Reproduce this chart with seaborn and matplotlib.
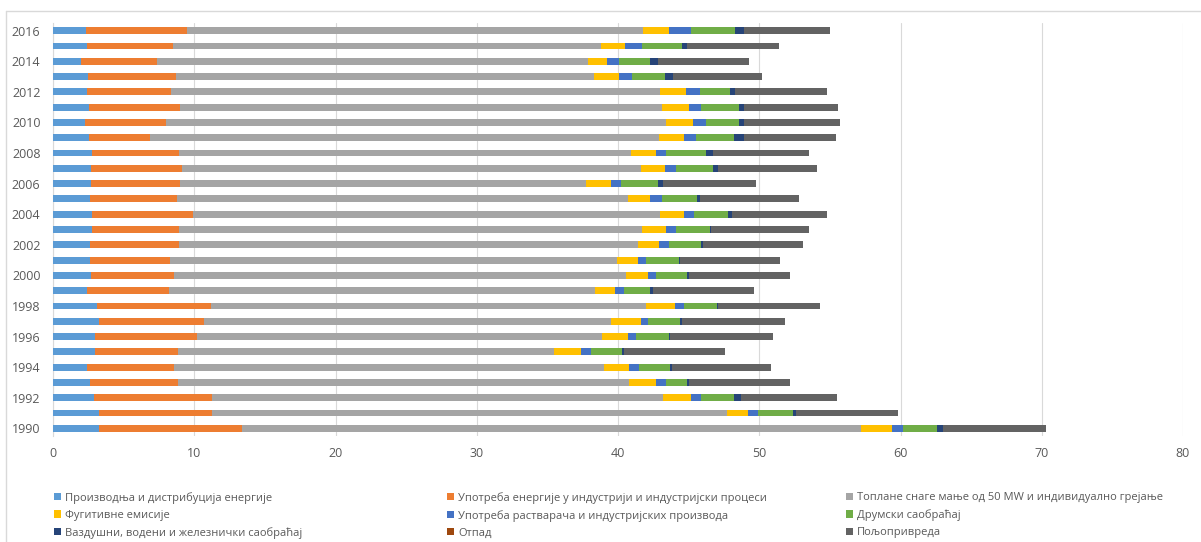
import numpy as np
import pandas as pd
import matplotlib
matplotlib.use("Agg")
import matplotlib.pyplot as plt
from matplotlib.patches import Patch
from matplotlib.lines import Line2D
import seaborn as sns

years = list(range(1990, 2017))

categories = [
    "Производња и дистрибуција енергије",
    "Употреба енергије у индустрији и индустријски процеси",
    "Топлане снаге мање од 50 MW и индивидуално грејање",
    "Фугитивне емисије",
    "Употреба растварача и индустријских производа",
    "Друмски саобраћај",
    "Ваздушни, водени и железнички саобраћај",
    "Отпад",
    "Пољопривреда",
]

# values per year, 1990 .. 2016
energy = [3.28, 3.23, 2.93, 2.62, 2.38, 2.95, 2.97, 3.28, 3.09, 2.43,
          2.67, 2.62, 2.62, 2.76, 2.76, 2.62, 2.71, 2.71, 2.76, 2.57,
          2.29, 2.57, 2.38, 2.50, 1.96, 2.43, 2.34]
industry = [10.08, 8.05, 8.35, 6.25, 6.19, 5.88, 7.20, 7.41, 8.07, 5.81,
            5.90, 5.66, 6.32, 6.18, 7.17, 6.18, 6.28, 6.40, 6.14, 4.30,
            5.69, 6.42, 5.95, 6.18, 5.43, 6.09, 7.17]
heating = [43.84, 36.42, 31.92, 31.93, 30.43, 26.67, 28.73, 28.81, 30.84, 30.16,
           32.03, 31.62, 32.46, 32.76, 33.07, 31.90, 28.71, 32.49, 32.00, 36.03,
           35.42, 34.11, 34.67, 29.62, 30.51, 30.28, 32.29]
fugitive = [2.2, 1.5, 2.0, 1.9, 1.8, 1.9, 1.8, 2.1, 2.0, 1.4,
            1.5, 1.5, 1.5, 1.7, 1.7, 1.6, 1.8, 1.7, 1.8, 1.8,
            1.9, 1.9, 1.8, 1.8, 1.3, 1.7, 1.8]
solvents = [0.8, 0.7, 0.7, 0.7, 0.7, 0.7, 0.6, 0.5, 0.7, 0.6,
            0.6, 0.6, 0.7, 0.7, 0.7, 0.8, 0.7, 0.8, 0.7, 0.8,
            0.9, 0.9, 1.0, 0.9, 0.9, 1.2, 1.6]
road = [2.4, 2.5, 2.3, 1.5, 2.2, 2.2, 2.3, 2.3, 2.3, 1.9,
        2.2, 2.3, 2.3, 2.4, 2.4, 2.5, 2.6, 2.6, 2.8, 2.7,
        2.4, 2.7, 2.1, 2.3, 2.2, 2.8, 3.1]
other_transport = [0.4, 0.2, 0.5, 0.1, 0.1, 0.1, 0.1, 0.1, 0.1, 0.2,
                   0.1, 0.1, 0.1, 0.1, 0.3, 0.2, 0.4, 0.4, 0.5, 0.7,
                   0.3, 0.3, 0.4, 0.6, 0.5, 0.4, 0.6]
waste = [0.0, 0.0, 0.0, 0.0, 0.0, 0.0, 0.0, 0.0, 0.0, 0.0,
         0.0, 0.0, 0.0, 0.0, 0.0, 0.0, 0.0, 0.0, 0.0, 0.0,
         0.0, 0.0, 0.0, 0.0, 0.0, 0.0, 0.0]
agriculture = [7.3, 7.2, 6.8, 7.2, 7.0, 7.2, 7.3, 7.3, 7.2, 7.1,
               7.2, 7.1, 7.1, 6.9, 6.7, 7.0, 6.6, 7.0, 6.8, 6.5,
               6.8, 6.7, 6.5, 6.3, 6.5, 6.5, 6.1]

colors = ["#5B9BD5", "#ED7D31", "#A5A5A5", "#FFC000", "#4472C4",
          "#70AD47", "#264478", "#9E480E", "#636363"]

df = pd.DataFrame({
    categories[0]: energy,
    categories[1]: industry,
    categories[2]: heating,
    categories[3]: fugitive,
    categories[4]: solvents,
    categories[5]: road,
    categories[6]: other_transport,
    categories[7]: waste,
    categories[8]: agriculture,
}, index=[str(y) for y in years])

cum = df.cumsum(axis=1)
cum["year"] = cum.index
order = [str(y) for y in reversed(years)]

sns.set_style("white")
plt.rcParams["font.family"] = ["Open Sans", "DejaVu Sans"]

fig = plt.figure(figsize=(12.01, 5.42), dpi=100)
ax = fig.add_axes([53 / 1201, 1 - 436 / 542, 1130 / 1201, 413 / 542])

# stacked bars: draw the cumulative totals from the longest to the shortest
for i in range(len(categories) - 1, -1, -1):
    sns.barplot(
        data=cum,
        x=categories[i],
        y="year",
        order=order,
        orient="h",
        color=colors[i],
        saturation=1,
        width=0.45,
        errorbar=None,
        linewidth=0,
        edgecolor="none",
        ax=ax,
        zorder=3,
    )

ax.set_xlim(0, 80)
ax.set_xticks(np.arange(0, 81, 10))
ax.grid(axis="x", color="#D9D9D9", linewidth=0.8, zorder=0)
ax.set_axisbelow(True)
ax.set_ylim(len(order) - 0.5, -0.5)
ax.set_yticks(range(len(order)))
ax.set_yticklabels([y if int(y) % 2 == 0 else "" for y in order])
ax.set_xlabel("")
ax.set_ylabel("")
ax.tick_params(axis="both", length=0, labelsize=9, colors="#595959")
ax.tick_params(axis="x", pad=8)
ax.tick_params(axis="y", pad=9)
for side in ["top", "right", "bottom"]:
    ax.spines[side].set_visible(False)
ax.spines["left"].set_color("#D9D9D9")
ax.spines["left"].set_linewidth(0.8)

# legend in three columns, filled row by row
handles = [Patch(facecolor=c, edgecolor="none") for c in colors]
col_x = [54 / 1201, 447 / 1201, 846 / 1201]
for c in range(3):
    idx = [c, c + 3, c + 6]
    leg = fig.legend(
        [handles[k] for k in idx],
        [categories[k] for k in idx],
        loc="upper left",
        bbox_to_anchor=(col_x[c], 1 - 492 / 542),
        frameon=False,
        fontsize=8,
        handlelength=0.6,
        handleheight=0.6,
        handletextpad=0.4,
        labelspacing=0.55,
        borderpad=0,
        borderaxespad=0,
    )
    for t in leg.get_texts():
        t.set_color("#595959")

# chart area frame
fig.add_artist(Line2D([6 / 1201, 1], [1 - 11 / 542, 1 - 11 / 542],
                      color="#D9D9D9", linewidth=1))
fig.add_artist(Line2D([6 / 1201, 6 / 1201], [0, 1 - 11 / 542],
                      color="#D9D9D9", linewidth=1))

fig.savefig("out.png", dpi=100)
plt.close()
